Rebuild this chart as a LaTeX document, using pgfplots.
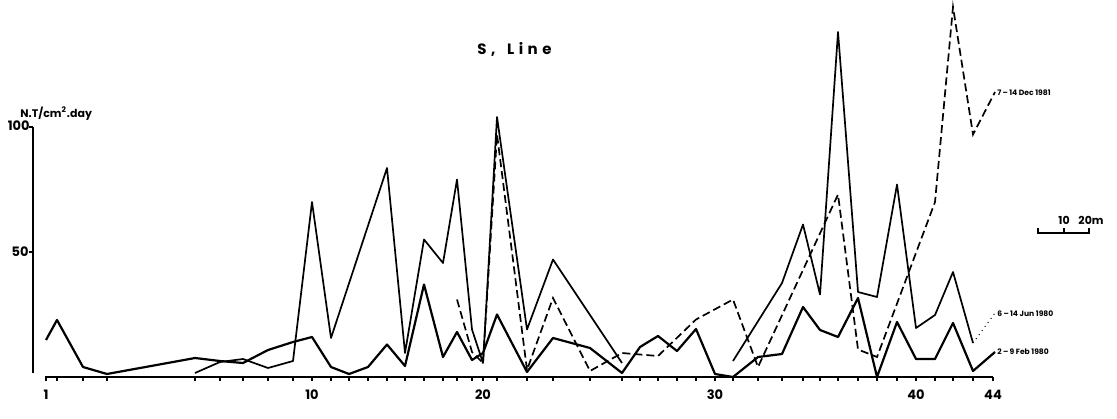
\documentclass[border=0pt]{standalone}
\usepackage{pgfplots}
\pgfplotsset{compat=1.18}
\usepackage{fontspec}
\setmainfont{Poppins}

% station positions along the line (drawn distance), values in N.T/cm^2.day
\begin{document}
\begin{tikzpicture}
\begin{axis}[
  scale only axis, width=558.5pt, height=209pt,
  xmin=0, xmax=1117, ymin=-16.4, ymax=150.8,
  hide axis, clip=false,
  unbounded coords=jump,
]
% 2-9 Feb 1980
\addplot[black, line width=1.1pt, line join=round] coordinates {
  (46,14.8)(57,22.8)(83,4)(107,1.2)(195,7.6)(220,6.4)(243,5.6)(268,10.8)
  (293,14)(312,16)(331,4)(349,1.2)(368,4)(387,13)(405,4.4)(424,37)(443,8)
  (457,18)(472,6.8)(483,9.6)(497,25)(527,2)(553,15.6)(590,11.6)(622,1.6)
  (640,12)(658,16.4)(677,10.4)(696,19.2)(715,1.2)(733,0)(758,8)(782,9.2)
  (803,28)(820,18.8)(838,16)(858,31.6)(877,0)(897,22)(916,7.2)(935,7.2)
  (953,21.6)(973,2.4)(995,10)};
% 6-14 Jun 1980
\addplot[black, line width=0.85pt, line join=round] coordinates {
  (195,1.6)(220,6)(243,7.2)(268,3.6)(293,6.4)(312,70)(331,15.6)(387,83.6)
  (405,9.6)(424,55)(443,45.6)(457,79)(472,19)(483,5.6)(497,104)(527,19)
  (553,47)(622,5.6)(680,nan)
  (733,6.4)(782,37.6)(803,61)(820,33)(838,138)(858,34)(877,32)(897,77)
  (916,19.6)(935,24.8)(953,42)(973,13.6)};
\addplot[black, line width=0.5pt, dotted] coordinates {(973,13.6)(995,25.6)};
% 7-14 Dec 1981
\addplot[black, line width=0.85pt, dash pattern=on 4pt off 2pt] coordinates {
  (457,31)(472,10)(483,5.6)(497,97)(527,2.8)(553,31.6)(590,2.4)(622,9.6)
  (658,8.4)(696,23)(733,31)(758,4)(838,73)(858,11)(877,8)(935,70)
  (953,148)(973,97)(995,114)};

% axes
\draw[line width=1.1pt] (axis cs:33,100) -- (axis cs:33,1.6);
\draw[line width=0.8pt] (axis cs:29,100) -- (axis cs:33,100);
\draw[line width=0.8pt] (axis cs:29,50) -- (axis cs:33,50);
\draw[line width=1.1pt] (axis cs:45,0) -- (axis cs:993,0);
\pgfplotsinvokeforeach{46,57,83,107,195,220,243,268,293,312,331,349,368,387,
  405,424,443,457,472,483,497,527,553,590,622,640,658,677,696,715,733,758,
  782,803,820,838,858,877,897,916,935,953,973,993}{
  \draw[line width=0.6pt] (axis cs:#1,0) -- (axis cs:#1,-1.6);
}
\begin{scope}[font=\fontsize{6.5}{7}\selectfont\bfseries]
\node at (axis cs:46,-7.2) {1};
\node at (axis cs:312,-7.2) {10};
\node at (axis cs:483,-7.2) {20};
\node at (axis cs:715,-7.2) {30};
\node at (axis cs:916,-7.2) {40};
\node at (axis cs:993,-7.2) {44};
\node[anchor=east, inner sep=0pt] at (axis cs:30,100.5) {100};
\node[anchor=east, inner sep=0pt] at (axis cs:29,50) {50};
\end{scope}
\node[anchor=west, inner sep=0pt, font=\fontsize{5.5}{6}\selectfont\bfseries]
  at (axis cs:20,105.5) {N.T/cm$^{\mathbf 2}$.day};
\node[anchor=west, inner sep=0pt,
  font=\fontsize{7.5}{8}\selectfont\bfseries\addfontfeatures{LetterSpace=30}]
  at (axis cs:477,131) {S,\hspace{2pt} Line};

% series labels
\begin{scope}[font=\fontsize{3.8}{4}\selectfont\bfseries]
\node[anchor=west, inner sep=0.5pt] at (axis cs:996,113.6) {7\,--\,14 Dec 1981};
\node[anchor=west, inner sep=0.5pt] at (axis cs:996,25.4) {6\,--\,14 Jun 1980};
\node[anchor=west, inner sep=0.5pt] at (axis cs:996,10) {2\,--\,9 Feb 1980};
\end{scope}

% scale bar
\draw[line width=0.6pt] (axis cs:1038,59.6) -- (axis cs:1038,57.6)
  -- (axis cs:1089,57.6) -- (axis cs:1089,59.6);
\draw[line width=0.6pt] (axis cs:1064,57.6) -- (axis cs:1064,59.6);
\begin{scope}[font=\fontsize{5.5}{6}\selectfont\bfseries]
\node at (axis cs:1064,62.5) {10};
\node at (axis cs:1091,62.5) {20m};
\end{scope}
\end{axis}
\pgfresetboundingbox
\path (current axis.south west) rectangle (current axis.north east);
\end{tikzpicture}
\end{document}
